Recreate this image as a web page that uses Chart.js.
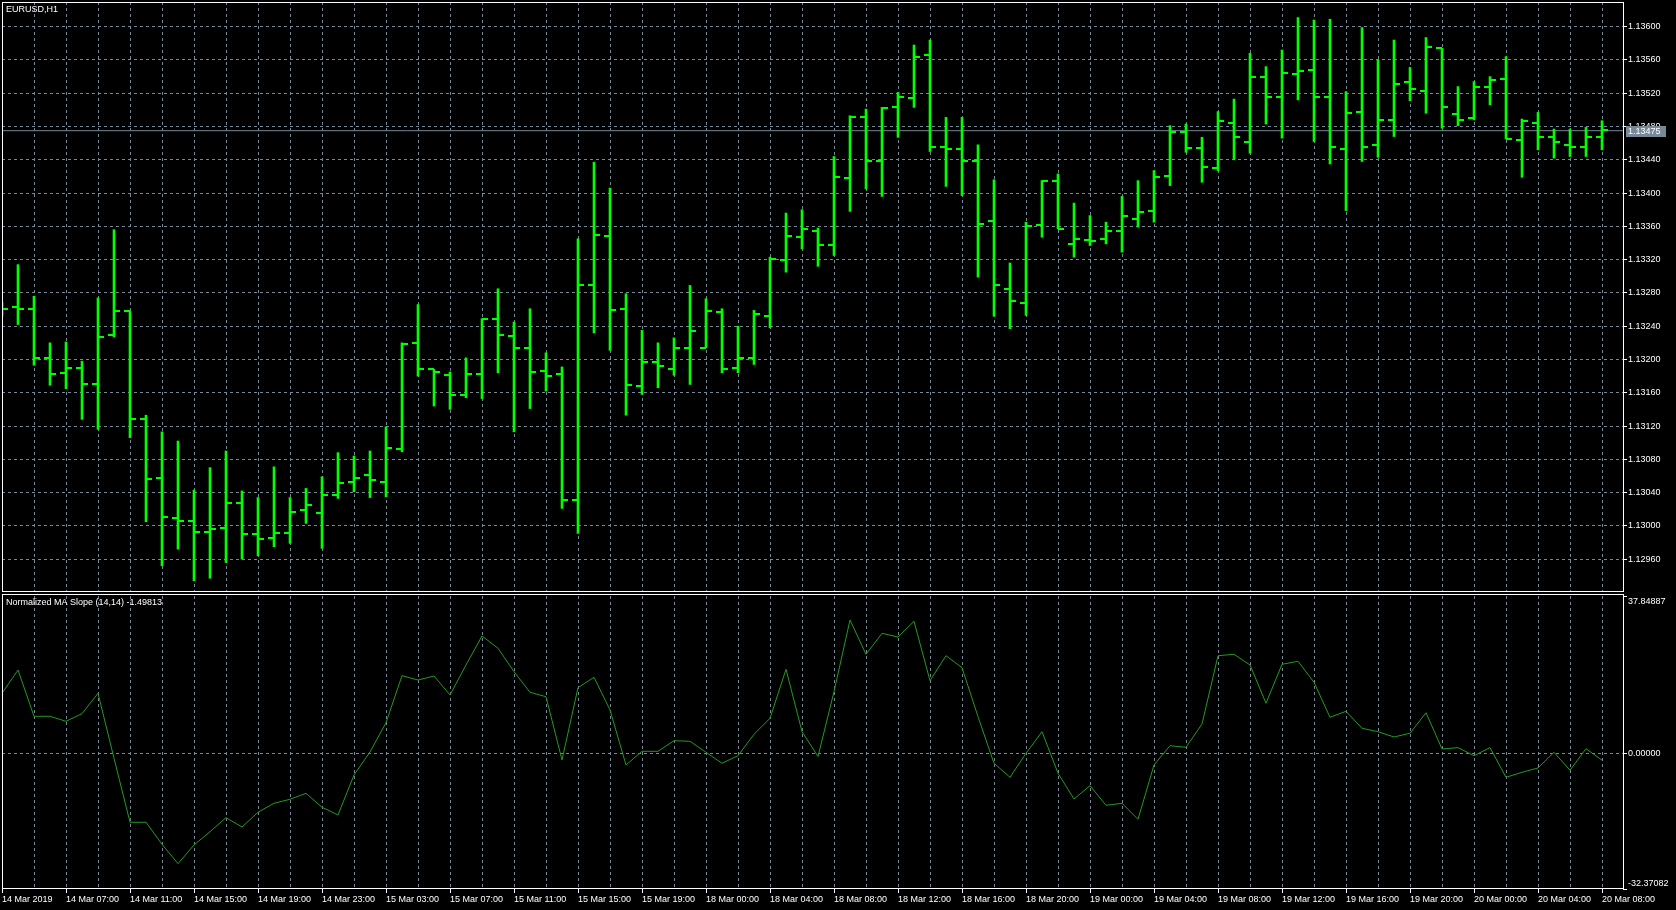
<!DOCTYPE html>
<html>
<head>
<meta charset="utf-8">
<script src="https://cdn.jsdelivr.net/npm/chart.js@4/dist/chart.umd.min.js"></script>
<style>
html, body { margin: 0; padding: 0; background: #000; overflow: hidden; }
#wrap { position: relative; width: 1676px; height: 910px; }
#price-chart { position: absolute; left: 0; top: 0; }
#slope-chart { position: absolute; left: 0; top: 593px; }
</style>
</head>
<body>
<div id="wrap">
<canvas id="price-chart" width="1676" height="593"></canvas>
<canvas id="slope-chart" width="1676" height="317"></canvas>
</div>
<script>
// EURUSD H1 bars, 14 Mar 03:00 .. 20 Mar 08:00
let openPrices = [1.13261,1.13263,1.13261,1.13202,1.13184,1.13190,1.13170,1.13230,1.13258,1.13129,
  1.13058,1.13009,1.13006,1.12993,1.12997,1.13027,1.12990,1.12985,1.12991,1.13019,
  1.13015,1.13037,1.13053,1.13061,1.13053,1.13092,1.13220,1.13188,1.13181,1.13157,
  1.13182,1.13249,1.13228,1.13214,1.13186,1.13182,1.13031,1.13289,1.13348,1.13261,
  1.13168,1.13197,1.13188,1.13214,1.13214,1.13257,1.13190,1.13202,1.13252,1.13319,
  1.13347,1.13355,1.13338,1.13418,1.13492,1.13438,1.13503,1.13514,1.13566,1.13455,
  1.13453,1.13438,1.13367,1.13285,1.13268,1.13362,1.13415,1.13339,1.13344,1.13345,
  1.13355,1.13369,1.13379,1.13420,1.13474,1.13454,1.13430,1.13484,1.13462,1.13539,
  1.13515,1.13543,1.13548,1.13515,1.13453,1.13497,1.13458,1.13488,1.13533,1.13523,
  1.13574,1.13495,1.13490,1.13527,1.13537,1.13464,1.13484,1.13468,1.13458,1.13456,
  1.13467];
let highPrices = [1.13268,1.13314,1.13276,1.13220,1.13221,1.13198,1.13274,1.13356,1.13258,1.13133,
  1.13113,1.13102,1.13043,1.13070,1.13090,1.13042,1.13034,1.13071,1.13034,1.13045,
  1.13059,1.13088,1.13084,1.13090,1.13119,1.13220,1.13266,1.13188,1.13185,1.13202,
  1.13249,1.13285,1.13245,1.13261,1.13208,1.13191,1.13345,1.13437,1.13406,1.13279,
  1.13235,1.13220,1.13226,1.13289,1.13273,1.13261,1.13240,1.13259,1.13323,1.13376,
  1.13380,1.13358,1.13444,1.13493,1.13501,1.13503,1.13521,1.13578,1.13584,1.13491,
  1.13491,1.13458,1.13416,1.13316,1.13365,1.13415,1.13423,1.13388,1.13373,1.13365,
  1.13396,1.13415,1.13427,1.13481,1.13483,1.13467,1.13498,1.13513,1.13568,1.13552,
  1.13572,1.13611,1.13608,1.13609,1.13522,1.13599,1.13560,1.13584,1.13551,1.13587,
  1.13574,1.13528,1.13534,1.13540,1.13564,1.13489,1.13497,1.13477,1.13477,1.13479,
  1.13487];
let lowPrices = [1.13252,1.13242,1.13193,1.13169,1.13165,1.13128,1.13116,1.13227,1.13106,1.13005,
  1.12952,1.12972,1.12934,1.12937,1.12956,1.12960,1.12964,1.12975,1.12979,1.13003,
  1.12973,1.13033,1.13041,1.13034,1.13035,1.13089,1.13180,1.13144,1.13140,1.13154,
  1.13153,1.13184,1.13113,1.13141,1.13162,1.13021,1.12991,1.13232,1.13211,1.13133,
  1.13158,1.13166,1.13181,1.13170,1.13214,1.13184,1.13184,1.13194,1.13238,1.13305,
  1.13333,1.13312,1.13325,1.13378,1.13405,1.13396,1.13467,1.13503,1.13450,1.13408,
  1.13397,1.13299,1.13252,1.13237,1.13253,1.13347,1.13357,1.13323,1.13337,1.13339,
  1.13329,1.13359,1.13365,1.13409,1.13449,1.13413,1.13427,1.13440,1.13448,1.13483,
  1.13466,1.13512,1.13462,1.13435,1.13379,1.13438,1.13443,1.13468,1.13511,1.13496,
  1.13478,1.13481,1.13488,1.13506,1.13465,1.13419,1.13452,1.13442,1.13444,1.13444,
  1.13452];
let closePrices = [1.13261,1.13261,1.13202,1.13183,1.13190,1.13171,1.13227,1.13258,1.13129,1.13056,
  1.13011,1.13006,1.12993,1.12996,1.13027,1.12990,1.12984,1.12992,1.13017,1.13025,
  1.13037,1.13052,1.13058,1.13055,1.13093,1.13219,1.13188,1.13185,1.13157,1.13183,
  1.13249,1.13229,1.13214,1.13185,1.13180,1.13031,1.13289,1.13350,1.13259,1.13169,
  1.13197,1.13192,1.13214,1.13234,1.13258,1.13188,1.13202,1.13255,1.13321,1.13348,
  1.13357,1.13338,1.13419,1.13491,1.13438,1.13502,1.13515,1.13563,1.13455,1.13453,
  1.13438,1.13363,1.13290,1.13270,1.13361,1.13415,1.13357,1.13345,1.13343,1.13355,
  1.13372,1.13377,1.13419,1.13474,1.13454,1.13431,1.13487,1.13467,1.13539,1.13515,
  1.13544,1.13547,1.13515,1.13456,1.13496,1.13456,1.13488,1.13531,1.13525,1.13576,
  1.13503,1.13488,1.13527,1.13536,1.13465,1.13487,1.13468,1.13461,1.13456,1.13468,
  1.13476];

// Normalized MA Slope (14,14)
let slopeValues = [14.53,20.12,9.02,9.02,7.82,9.65,14.53,-1.04,-16.38,-16.38,
  -21.65,-26.30,-21.82,-18.63,-15.28,-17.51,-13.98,-11.83,-10.87,-9.43,
  -12.79,-14.63,-5.04,0.47,7.49,18.75,17.72,18.68,14.13,21.32,
  28.26,25.32,19.71,14.77,13.72,-1.45,15.88,18.37,10.53,-2.65,
  0.63,0.63,3.17,3.03,0.39,-2.24,-0.42,4.71,8.54,20.28,
  5.33,-0.60,14.92,32.10,23.88,28.91,28.02,31.79,17.55,23.54,
  20.67,8.93,-2.24,-5.60,0.15,5.33,-4.64,-10.80,-7.61,-12.31,
  -11.83,-15.66,-2.65,1.98,1.59,7.18,23.54,23.88,21.32,12.14,
  21.48,22.20,17.17,8.78,10.22,6.15,5.33,4.06,4.95,9.88,
  1.19,1.50,-0.42,1.50,-5.60,-4.40,-3.37,0.39,-3.92,1.26,
  -1.50];

// one label every 4 bars
let timeLabels = ['14 Mar 2019','14 Mar 07:00','14 Mar 11:00','14 Mar 15:00','14 Mar 19:00',
  '14 Mar 23:00','15 Mar 03:00','15 Mar 07:00','15 Mar 11:00','15 Mar 15:00','15 Mar 19:00',
  '18 Mar 00:00','18 Mar 04:00','18 Mar 08:00','18 Mar 12:00','18 Mar 16:00','18 Mar 20:00',
  '19 Mar 00:00','19 Mar 04:00','19 Mar 08:00','19 Mar 12:00','19 Mar 16:00','19 Mar 20:00',
  '20 Mar 00:00','20 Mar 04:00','20 Mar 08:00'];

let bidPrice = 1.13475;
let priceMin = 1.129205, priceMax = 1.136297;
let slopeMin = -32.37082, slopeMax = 37.84887;
let slopeText = 'Normalized MA Slope (14,14) -1.49813';

let barColor = '#00ff00';
let gridColor = '#778899';
let xMax = 101.3125;
let labelFont = { family: 'Liberation Sans', size: 9 };

function tickImage(left) {
    let c = document.createElement('canvas');
    c.width = 12;
    c.height = 2;
    let g = c.getContext('2d');
    g.fillStyle = barColor;
    g.fillRect(left ? 0 : 6, 0, 6, 2);
    return c;
}

function framePlugin(title, titleY, topRow) {
    return {
        id: 'frame',
        afterDraw(chart) {
            let ctx = chart.ctx, a = chart.chartArea;
            ctx.save();
            ctx.strokeStyle = '#ffffff';
            ctx.lineWidth = 1;
            let top = topRow + 0.5;
            ctx.strokeRect(Math.floor(a.left) + 0.5, top, Math.round(a.right) - Math.floor(a.left), Math.round(a.bottom) - 0.5 - top);
            ctx.fillStyle = '#ffffff';
            ctx.font = '9px "Liberation Sans"';
            ctx.textBaseline = 'middle';
            ctx.textAlign = 'left';
            ctx.fillText(title, 6, titleY);
            ctx.restore();
        }
    };
}

let bidLabelPlugin = {
    id: 'bidLabel',
    afterDraw(chart) {
        let ctx = chart.ctx;
        let y = Math.round(chart.scales.y.getPixelForValue(bidPrice));
        ctx.save();
        ctx.fillStyle = gridColor;
        ctx.fillRect(1626, y - 5, 40, 11);
        ctx.fillStyle = '#ffffff';
        ctx.font = '9px "Liberation Sans"';
        ctx.textBaseline = 'middle';
        ctx.fillText(bidPrice.toFixed(5), 1628, y + 0.5);
        ctx.restore();
    }
};

let priceCtx = document.getElementById('price-chart').getContext('2d');
let slopeCtx = document.getElementById('slope-chart').getContext('2d');

let priceChart = new Chart(priceCtx, {
    type: 'bar',
    data: {
        datasets: [
            {
                type: 'line', showLine: false, pointStyle: tickImage(true), pointRadius: 3, borderWidth: 1,
                data: openPrices.map((v, i) => ({ x: i, y: v }))
            },
            {
                type: 'line', showLine: false, pointStyle: tickImage(false), pointRadius: 3, borderWidth: 1,
                data: closePrices.map((v, i) => ({ x: i, y: v }))
            },
            {
                type: 'bar', backgroundColor: barColor, borderWidth: 0, barThickness: 2, grouped: false,
                data: highPrices.map((v, i) => ({ x: i, y: [lowPrices[i], v] }))
            },
            {
                type: 'line', borderColor: gridColor, borderWidth: 1, pointRadius: 0,
                data: [{ x: 0, y: bidPrice }, { x: xMax, y: bidPrice }]
            }
        ]
    },
    options: {
        responsive: false,
        animation: false,
        events: [],
        layout: { autoPadding: false, padding: { left: 2, top: 2, right: 0, bottom: 1 } },
        plugins: { legend: { display: false }, tooltip: { enabled: false } },
        scales: {
            x: {
                type: 'linear', min: 0, max: xMax, offset: false,
                ticks: { display: false, stepSize: 2, includeBounds: false },
                grid: { color: gridColor, offset: false, drawTicks: false },
                border: { display: false, dash: [3, 3] },
                afterFit: s => { s.height = 0; s.paddingLeft = 0; s.paddingRight = 0; }
            },
            y: {
                type: 'linear', position: 'right', min: priceMin, max: priceMax,
                ticks: {
                    stepSize: 0.0004, includeBounds: false, color: '#ffffff', font: labelFont, padding: 1,
                    callback: v => v.toFixed(5)
                },
                grid: { color: gridColor, tickColor: '#ffffff', tickLength: 4 },
                border: { display: false, dash: [3, 3] },
                afterFit: s => { s.width = 53; s.paddingTop = 0; s.paddingBottom = 0; }
            }
        }
    },
    plugins: [framePlugin('EURUSD,H1', 10, 2), bidLabelPlugin]
});

let slopeChart = new Chart(slopeCtx, {
    type: 'line',
    data: {
        datasets: [{
            borderColor: '#229a22', borderWidth: 1, pointRadius: 0,
            data: slopeValues.map((v, i) => ({ x: i, y: v }))
        }]
    },
    options: {
        responsive: false,
        animation: false,
        events: [],
        layout: { autoPadding: false, padding: { left: 2, top: 3, right: 0, bottom: 0 } },
        plugins: { legend: { display: false }, tooltip: { enabled: false } },
        scales: {
            x: {
                type: 'linear', min: 0, max: xMax, offset: false,
                ticks: {
                    stepSize: 2, includeBounds: false, autoSkip: false, maxRotation: 0, minRotation: 0,
                    align: 'start', color: '#ffffff', font: labelFont, padding: 1,
                    callback: v => (v % 4 === 0 ? timeLabels[v / 4] : '')
                },
                grid: {
                    color: gridColor, tickLength: 4,
                    tickColor: c => (c.tick && c.tick.value % 4 === 0 ? '#ffffff' : 'rgba(0,0,0,0)')
                },
                border: { display: false, dash: [3, 3] },
                afterFit: s => { s.height = 21; s.paddingLeft = 0; s.paddingRight = 0; }
            },
            y: {
                type: 'linear', position: 'right', min: slopeMin, max: slopeMax,
                afterBuildTicks: s => { s.ticks = [{ value: slopeMin }, { value: 0 }, { value: slopeMax }]; },
                ticks: {
                    color: '#ffffff', font: labelFont, padding: 1,
                    callback: v => {
                        let t = v.toFixed(5);
                        if (v === slopeMax) return ['', t];
                        if (v === slopeMin) return [t, ''];
                        return t;
                    }
                },
                grid: {
                    color: c => (c.tick && c.tick.value === 0 ? gridColor : 'rgba(0,0,0,0)'),
                    tickColor: '#ffffff', tickLength: 4
                },
                border: { display: false, dash: [3, 3] },
                afterFit: s => { s.width = 53; s.paddingTop = 0; s.paddingBottom = 0; }
            }
        }
    },
    plugins: [framePlugin(slopeText, 10, 1)]
});
</script>
</body>
</html>
